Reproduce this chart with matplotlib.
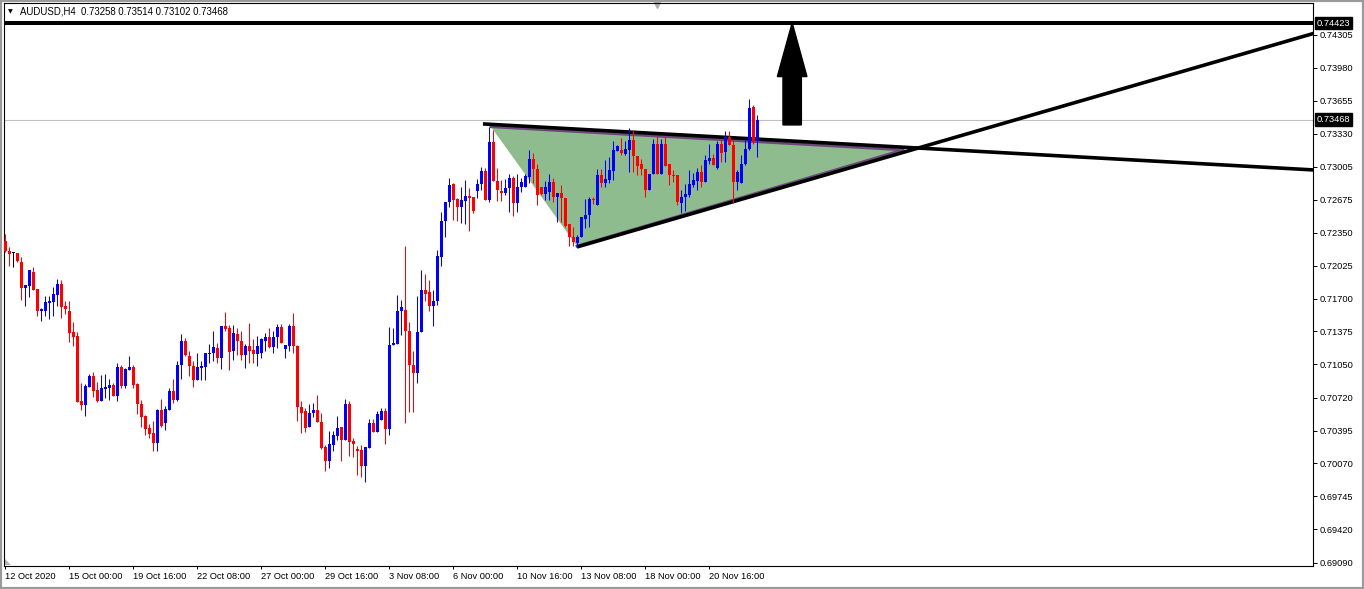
import numpy as np
import matplotlib.pyplot as plt
from matplotlib.patches import Polygon, Rectangle

# AUDUSD H4 candles, prices in pips (x 1e-4)
opens = [7227, 7217, 7215, 7215, 7206, 7180, 7182, 7196, 7179, 7158,
         7158, 7166, 7167, 7174, 7184, 7163, 7158, 7137, 7133, 7069,
         7065, 7083, 7093, 7080, 7069, 7081, 7082, 7085, 7074, 7102,
         7084, 7099, 7102, 7086, 7066, 7054, 7042, 7037, 7027, 7060,
         7047, 7060, 7079, 7070, 7104, 7128, 7113, 7103, 7090, 7101,
         7102, 7115, 7116, 7121, 7111, 7143, 7141, 7118, 7135, 7128,
         7114, 7123, 7119, 7115, 7116, 7128, 7132, 7122, 7132, 7142,
         7120, 7123, 7143, 7123, 7063, 7059, 7043, 7057, 7060, 7048,
         7023, 7009, 7025, 7034, 7043, 7030, 7066, 7029, 7021, 7020,
         7005, 7022, 7047, 7038, 7050, 7059, 7041, 7124, 7125, 7158,
         7159, 7138, 7104, 7096, 7137, 7178, 7176, 7163, 7168, 7211,
         7247, 7265, 7283, 7268, 7260, 7266, 7271, 7270, 7276, 7283,
         7296, 7267, 7325, 7286, 7276, 7274, 7279, 7289, 7264, 7280,
         7280, 7290, 7308, 7298, 7280, 7273, 7275, 7285, 7270, 7274,
         7269, 7244, 7231, 7225, 7231, 7249, 7253, 7268, 7262, 7292,
         7284, 7287, 7296, 7316, 7317, 7313, 7317, 7327, 7311, 7303,
         7298, 7277, 7293, 7323, 7293, 7323, 7303, 7292, 7292, 7264,
         7270, 7272, 7282, 7286, 7295, 7285, 7306, 7309, 7299, 7323,
         7315, 7330, 7322, 7285, 7284, 7303, 7318, 7359, 7325.8]
highs = [7234, 7221, 7216, 7215, 7211, 7183, 7198, 7201, 7179, 7161,
         7173, 7173, 7181, 7189, 7188, 7168, 7168, 7147, 7137, 7087,
         7086, 7095, 7097, 7088, 7094, 7095, 7091, 7087, 7106, 7104,
         7101, 7113, 7104, 7087, 7070, 7055, 7046, 7049, 7061, 7071,
         7064, 7082, 7091, 7108, 7135, 7131, 7118, 7108, 7116, 7108,
         7116, 7125, 7138, 7126, 7143, 7157, 7144, 7144, 7141, 7138,
         7125, 7146, 7130, 7133, 7131, 7136, 7141, 7138, 7145, 7145,
         7124, 7145, 7156, 7124, 7069, 7062, 7066, 7067, 7075, 7057,
         7025, 7039, 7039, 7054, 7043, 7071, 7069, 7032, 7024, 7025,
         7023, 7051, 7051, 7059, 7062, 7062, 7142, 7141, 7174, 7169,
         7222, 7147, 7118, 7173, 7198, 7194, 7188, 7178, 7218, 7256,
         7265, 7289, 7284, 7269, 7280, 7287, 7279, 7270, 7288, 7300,
         7299, 7340, 7337, 7299, 7287, 7288, 7293, 7291, 7293, 7289,
         7293, 7317, 7314, 7303, 7280, 7286, 7293, 7289, 7274, 7282,
         7269, 7244, 7241, 7233, 7251, 7268, 7270, 7270, 7298, 7298,
         7307, 7310, 7326, 7322, 7329, 7326, 7339, 7337, 7311, 7308,
         7298, 7293, 7328, 7331, 7328, 7330, 7303, 7297, 7292, 7277,
         7283, 7297, 7294, 7299, 7302, 7312, 7323, 7313, 7326, 7327,
         7336, 7336, 7327, 7297, 7312, 7328, 7367, 7361, 7351.4]
lows = [7216, 7202, 7201, 7206, 7169, 7163, 7172, 7178, 7153, 7148,
        7153, 7150, 7153, 7163, 7151, 7155, 7127, 7123, 7068, 7060,
        7054, 7083, 7073, 7068, 7069, 7072, 7070, 7074, 7069, 7082,
        7082, 7099, 7082, 7056, 7043, 7035, 7032, 7019, 7019, 7043,
        7040, 7060, 7067, 7069, 7091, 7113, 7093, 7083, 7090, 7090,
        7090, 7106, 7108, 7106, 7100, 7138, 7099, 7109, 7114, 7109,
        7101, 7106, 7106, 7103, 7111, 7118, 7121, 7116, 7121, 7126,
        7111, 7118, 7116, 7049, 7037, 7038, 7043, 7053, 7048, 7021,
        7000, 7003, 7019, 7030, 7009, 7030, 7014, 7013, 6996, 6994,
        6989, 7022, 7038, 7038, 7050, 7026, 7035, 7124, 7125, 7134,
        7047, 7058, 7058, 7087, 7137, 7168, 7158, 7143, 7164, 7202,
        7231, 7260, 7248, 7247, 7245, 7244, 7237, 7255, 7269, 7277,
        7267, 7265, 7286, 7266, 7266, 7272, 7256, 7252, 7256, 7275,
        7280, 7284, 7284, 7262, 7272, 7267, 7267, 7265, 7246, 7246,
        7241, 7222, 7222, 7221, 7231, 7240, 7241, 7263, 7262, 7280,
        7280, 7284, 7287, 7316, 7312, 7312, 7295, 7295, 7292, 7292,
        7270, 7277, 7293, 7293, 7293, 7301, 7282, 7285, 7262, 7255,
        7257, 7270, 7280, 7277, 7280, 7285, 7303, 7302, 7298, 7305,
        7305, 7322, 7264, 7277, 7284, 7302, 7317, 7323, 7310.2]
closes = [7217, 7214, 7215, 7207, 7180, 7183, 7198, 7178, 7158, 7160,
          7167, 7168, 7175, 7184, 7162, 7160, 7136, 7132, 7068, 7065,
          7084, 7093, 7079, 7069, 7082, 7083, 7085, 7074, 7102, 7084,
          7100, 7102, 7085, 7066, 7053, 7041, 7036, 7027, 7060, 7044,
          7061, 7079, 7070, 7104, 7128, 7114, 7103, 7090, 7102, 7103,
          7116, 7116, 7122, 7111, 7143, 7140, 7117, 7136, 7128, 7114,
          7123, 7118, 7115, 7123, 7130, 7132, 7122, 7132, 7142, 7126,
          7124, 7143, 7123, 7063, 7057, 7042, 7057, 7060, 7048, 7022,
          7009, 7026, 7035, 7042, 7030, 7066, 7028, 7026, 7019, 7005,
          7023, 7047, 7038, 7056, 7059, 7041, 7124, 7126, 7158, 7162,
          7138, 7104, 7096, 7137, 7178, 7175, 7163, 7168, 7212, 7247,
          7265, 7282, 7267, 7260, 7267, 7271, 7269, 7257, 7283, 7296,
          7267, 7325, 7286, 7277, 7274, 7279, 7289, 7264, 7280, 7285,
          7291, 7308, 7298, 7272, 7273, 7280, 7285, 7270, 7274, 7269,
          7242, 7231, 7226, 7231, 7251, 7253, 7268, 7267, 7292, 7284,
          7288, 7297, 7317, 7321, 7314, 7318, 7327, 7311, 7301, 7298,
          7277, 7293, 7323, 7293, 7323, 7301, 7292, 7291, 7265, 7270,
          7273, 7283, 7287, 7295, 7285, 7307, 7309, 7302, 7323, 7314,
          7330, 7322, 7285, 7295, 7303, 7318, 7358, 7325, 7346.8]

date_bars = [0, 16, 32, 48, 64, 80, 96, 112, 128, 144, 160, 176]
date_labels = ['12 Oct 2020', '15 Oct 00:00', '19 Oct 16:00', '22 Oct 08:00',
               '27 Oct 00:00', '29 Oct 16:00', '3 Nov 08:00', '6 Nov 00:00',
               '10 Nov 16:00', '13 Nov 08:00', '18 Nov 00:00', '20 Nov 16:00']
price_ticks = [0.74305, 0.73980, 0.73655, 0.73330, 0.73005, 0.72675, 0.72350,
               0.72025, 0.71700, 0.71375, 0.71050, 0.70720, 0.70395, 0.70070,
               0.69745, 0.69420, 0.69090]

hline_level = 0.74423
bid = 0.73468
# drawn objects (bar index, price)
top_line = ([119.4, 224.4], [0.73426, 0.73196])
bottom_line = ([142.9, 224.4], [0.72210, 0.73144])
triangle = [(121.4, 0.73398), (142.9, 0.72218), (224.4, 0.73169)]
arrow_x, arrow_from, arrow_to = 196.7, 0.73416, 0.74424

o = np.array(opens) / 10000
h = np.array(highs) / 10000
l = np.array(lows) / 10000
c = np.array(closes) / 10000
idx = np.arange(len(o))

W, H = 1364, 589
fig = plt.figure(figsize=(W / 100, H / 100), dpi=100, facecolor='white')
ax = fig.add_axes([4 / W, 23 / H, 1309 / W, 563 / H])
xmin, xmax = -0.33, 326.9
ymin, ymax = 0.69057, 0.74621
ax.set_xlim(xmin, xmax)
ax.set_ylim(ymin, ymax)

font = 'Liberation Sans'

# triangle fill and its purple edges
ax.add_patch(Polygon(triangle, closed=True, fc='#8fbc8f', ec='none', zorder=1))
ax.plot([triangle[0][0], triangle[2][0]], [triangle[0][1], triangle[2][1]],
        color='#6b4a7a', lw=2.0, zorder=1.5)
ax.plot([triangle[1][0], triangle[2][0]], [triangle[1][1], triangle[2][1]],
        color='#6b4a7a', lw=2.0, zorder=1.5)


def ray(xs, ys):
    k = (ys[1] - ys[0]) / (xs[1] - xs[0])
    return [xs[0], xmax + 5], [ys[0], ys[0] + k * (xmax + 5 - xs[0])]


for xs, ys in (top_line, bottom_line):
    rx, ry = ray(xs, ys)
    ax.plot(rx, ry, color='black', lw=2.6, solid_capstyle='butt', zorder=2)

ax.axhline(hline_level, color='black', lw=2.9, zorder=2)
ax.axhline(bid, color='#c0c0c0', lw=0.8, zorder=0.5)

# candles
up = c > o
down = c < o
cols = np.where(up, '#0000ff', np.where(down, '#ff0000', '#000000'))
ax.vlines(idx, l, h, colors=cols, lw=0.75, zorder=3)
body_lo = np.minimum(o, c)
body_h = np.maximum(np.abs(c - o), 0.00009)
ax.bar(idx, body_h, bottom=body_lo, width=0.75, color=cols, lw=0, zorder=3)

# arrow
ax.arrow(arrow_x, arrow_from, 0, arrow_to - arrow_from, width=4.6,
         head_width=7.4, head_length=0.0053, length_includes_head=True,
         fc='black', ec='black', zorder=4)

# axes styling
for s in ax.spines.values():
    s.set_color('black')
    s.set_linewidth(0.8)
ax.yaxis.tick_right()
ax.set_yticks(price_ticks)
ax.set_yticklabels([f'{p:.5f}' for p in price_ticks])
ax.tick_params(axis='y', direction='out', length=3, width=0.7, pad=2,
               labelsize=6.7, colors='black')
ax.set_xticks(date_bars)
ax.set_xticklabels(date_labels)
ax.tick_params(axis='x', direction='out', length=2.5, width=0.7, pad=1.5,
               labelsize=6.7, colors='black')
for t in ax.get_xticklabels() + ax.get_yticklabels():
    t.set_fontfamily(font)
for t in ax.get_xticklabels():
    t.set_ha('left')

ytr = ax.get_yaxis_transform()
for lvl in (hline_level, bid):
    ax.text(1.0 + 4 / 1309, lvl, f'{lvl:.5f}', transform=ytr, color='white',
            fontsize=6.7, family=font, va='center', ha='left', clip_on=False,
            bbox=dict(boxstyle='square,pad=0.18', fc='black', ec='black'),
            zorder=6)

# title
ax.text(4 / 1309, 1 - 8.5 / 563, '\u25bc', transform=ax.transAxes, fontsize=4.5,
        va='center', ha='left', family='DejaVu Sans')
ax.text(16 / 1309, 1 - 8.5 / 563, 'AUDUSD,H4  0.73258 0.73514 0.73102 0.73468',
        transform=ax.transAxes, fontsize=6.9, va='center', ha='left', family=font)

# chart shift markers
ax.plot([653 / 1309], [1 - 2 / 563], marker='v', color='#b0b0b0', ms=5,
        transform=ax.transAxes, clip_on=False)
ax.add_patch(Polygon([(1 / 1309, 7 / 563), (1 / 1309, 1 / 563), (7 / 1309, 1 / 563)],
                     closed=True, fc='#b4b4b4', ec='none', transform=ax.transAxes))

fig.patches.append(Rectangle((0, 0), 1, 1, transform=fig.transFigure, fill=False,
                             ec='#9a9a9a', lw=3))

fig.savefig('out.png', dpi=100, facecolor='white')
